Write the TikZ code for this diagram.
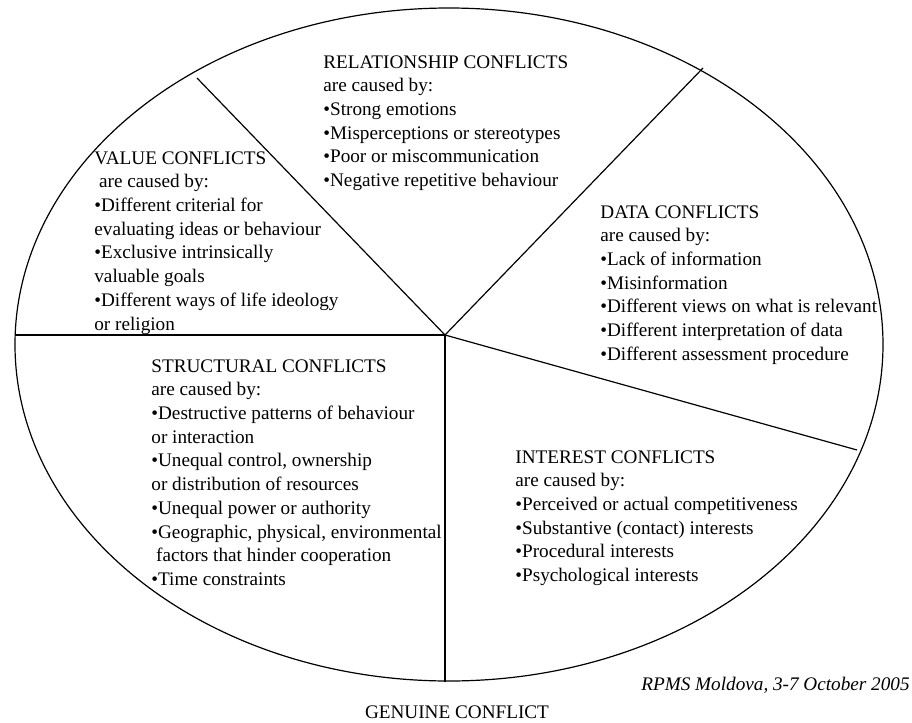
\documentclass[tikz,border=0pt]{standalone}
\usepackage{fontspec}
\setmainfont{Liberation Serif}
\usepackage{tikz}

\begin{document}
\begin{tikzpicture}[x=0.5pt,y=-0.5pt,
  rim/.style={line width=0.6pt},
  causes/.style={anchor=north west,align=left,inner sep=0pt,font=\fontsize{9.6}{11.85}\selectfont}]
\path[use as bounding box] (0,0) rectangle (912,723);
\draw[rim] (449,344.5) ellipse [x radius=217pt,y radius=168.25pt];
\coordinate (hub) at (445,335);
\coordinate (cutValue) at (197,78);
\coordinate (cutData) at (703,68);
\coordinate (cutLeft) at (15,335);
\coordinate (cutRight) at (857,450);
\coordinate (cutDown) at (445,682);
\draw[rim] (hub) -- (cutValue);
\draw[rim] (hub) -- (cutData);
\draw[rim] (hub) -- (cutLeft);
\draw[rim] (hub) -- (cutRight);
\draw[rim] (hub) -- (cutDown);
\node[causes] (relation) at (323,55) {RELATIONSHIP CONFLICTS\\are caused by:\\•Strong emotions\\•Misperceptions or stereotypes\\•Poor or miscommunication\\•Negative repetitive behaviour};
\node[causes] (value) at (94,151) {VALUE CONFLICTS\\\hspace*{0.25em}are caused by:\\•Different criterial for\\evaluating ideas or behaviour\\•Exclusive intrinsically\\valuable goals\\•Different ways of life ideology\\or religion};
\node[causes] (data) at (600,205) {DATA CONFLICTS\\are caused by:\\•Lack of information\\•Misinformation\\•Different views on what is relevant\\•Different interpretation of data\\•Different assessment procedure};
\node[causes] (struct) at (151,359) {STRUCTURAL CONFLICTS\\are caused by:\\•Destructive patterns of behaviour\\or interaction\\•Unequal control, ownership\\or distribution of resources\\•Unequal power or authority\\•Geographic, physical, environmental\\\hspace*{0.25em}factors that hinder cooperation\\•Time constraints};
\node[causes] (interest) at (515,450) {INTEREST CONFLICTS\\are caused by:\\•Perceived or actual competitiveness\\•Substantive (contact) interests\\•Procedural interests\\•Psychological interests};
\node[anchor=base east,inner sep=0pt,font=\fontsize{9.6}{11.85}\selectfont\itshape] (note) at (910,690) {RPMS Moldova, 3-7 October 2005};
\node[anchor=base,inner sep=0pt,font=\fontsize{9.6}{11.85}\selectfont] (title) at (457,718) {GENUINE CONFLICT};
\end{tikzpicture}
\end{document}
